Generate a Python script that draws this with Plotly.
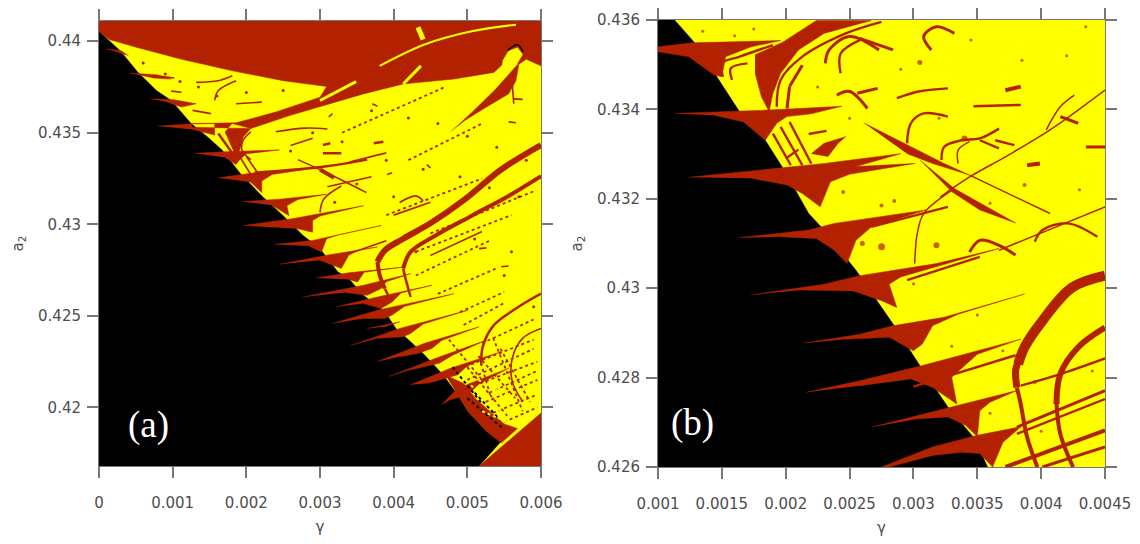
import plotly.graph_objects as go

RED = "#B22200"
YELLOW = "#FFFF00"
BLACK = "#000000"

# ---------- tick labels ----------
a_gamma_ticks = [0, 0.001, 0.002, 0.003, 0.004, 0.005, 0.006]
a_gamma_labels = ["0", "0.001", "0.002", "0.003", "0.004", "0.005", "0.006"]
a_a2_ticks = [0.42, 0.425, 0.43, 0.435, 0.44]
a_a2_labels = ["0.42", "0.425", "0.43", "0.435", "0.44"]
b_gamma_ticks = [0.001, 0.0015, 0.002, 0.0025, 0.003, 0.0035, 0.004, 0.0045]
b_gamma_labels = ["0.001", "0.0015", "0.002", "0.0025", "0.003", "0.0035", "0.004", "0.0045"]
b_a2_ticks = [0.426, 0.428, 0.43, 0.432, 0.434, 0.436]
b_a2_labels = ["0.426", "0.428", "0.43", "0.432", "0.434", "0.436"]

# ---------- panel (a): regions, (gamma*1000, a2) ----------
a_black = [[(0,.44054),(.29,.43946),(.53,.43829),(.78,.4373),(.98,.43676),(1.25,.4355),(1.47,.43478),(1.67,.43406),
            (1.91,.43281),(2.21,.43155),(2.5,.43047),(2.77,.42939),(3.0,.42867),(3.24,.42741),(3.39,.42703),(3.59,.42612),
            (3.88,.42522),(4.03,.42431),(4.23,.42359),(4.42,.42286),(4.67,.42178),(4.87,.42069),(5.01,.41978),(5.26,.4187),
            (5.46,.41815),(5.16,.4168),(0,.4168)]]
a_red = [
    [(0,.4411),(0,.44054),(.14,.44009),(.53,.43964),(1.12,.43901),(1.81,.43838),(2.5,.43784),(3.09,.43752),(3.0,.43694),
     (2.4,.43613),(1.86,.43554),(1.25,.4355),(1.27,.4353),(1.9,.43523),(2.06,.43523),(2.6,.43595),(3.09,.43655),(3.59,.43712),
     (4.13,.43766),(4.82,.43793),(5.36,.43829),(5.48,.43874),(5.7,.43874),(5.8,.43901),(5.95,.43874),(6,.43865),(6,.4411)],
    [(1.81,.4355),(2.06,.43523),(1.96,.43478),(1.91,.43406),(1.86,.4337),(1.76,.4346),(1.71,.43505)],
    [(5.56,.43847),(5.7,.43874),(5.66,.43784),(5.56,.43712),(5.26,.4364),(4.97,.43568),(4.77,.43505),(5.06,.4364),(5.36,.43766)],
    [(5.16,.4168),(6,.41969),(6,.4168)],
    [(.1,.43958),(.3,.43948),(.4,.4392)],
    [(.41,.43826),(.78,.43817),(.98,.43793),(.73,.43799)],
    [(.70,.43685),(1.02,.4368),(1.32,.43658),(1.12,.4364),(.93,.43667)],
    [(.80,.43536),(1.22,.43547),(1.57,.4355),(1.57,.43487),(1.27,.43518)],
    [(1.30,.43388),(1.71,.43396),(2.45,.43406),(2.0,.43385),(1.91,.43353),(1.86,.43326),(1.71,.43365)],
    [(1.62,.43254),(2.11,.43281),(2.8,.43299),(2.35,.43272),(2.21,.43236),(2.21,.43173),(2.06,.4323)],
    [(1.94,.43124),(2.45,.43137),(3.09,.43164),(2.7,.43135),(2.55,.43101),(2.58,.43047),(2.35,.43104)],
    [(1.96,.42993),(2.6,.43029),(3.59,.43101),(3.0,.43045),(2.9,.4302),(2.9,.42957),(2.7,.42975)],
    [(2.38,.4289),(2.9,.42912),(3.83,.42993),(3.25,.42942),(3.09,.42921),(3.02,.42849),(2.85,.42881)],
    [(2.45,.42782),(3.09,.42831),(3.78,.42876),(3.5,.42856),(3.39,.42831),(3.29,.42759),(3.0,.42804)],
    [(2.95,.42707),(3.39,.42735),(4.13,.42766),(3.6,.42738),(3.51,.42685),(3.39,.42699)],
    [(2.77,.42603),(3.59,.42667),(4.23,.4273),(3.9,.42686),(3.83,.42649),(3.64,.42612),(3.34,.42627)],
    [(3.22,.42549),(3.78,.42603),(4.52,.42667),(4.1,.42625),(3.98,.42576),(3.83,.4254),(3.59,.42567)],
    [(3.17,.42458),(3.78,.42531),(4.82,.42621),(4.15,.42552),(3.98,.42504),(3.88,.42486),(3.59,.42486)],
    [(3.41,.42337),(4.08,.42431),(5.01,.42531),(4.4,.42455),(4.23,.42404),(4.13,.42386),(3.78,.42377)],
    [(3.64,.42431),(3.98,.42458),(4.08,.42467),(3.88,.4244)],
    [(3.78,.4225),(4.42,.4235),(5.16,.4244),(4.65,.42365),(4.52,.42322),(4.33,.42295),(4.08,.42277)],
    [(3.93,.42168),(4.57,.42268),(5.26,.42368),(4.8,.42285),(4.62,.42241),(4.23,.42205)],
    [(4.23,.42123),(4.77,.42214),(5.46,.42304),(5.0,.42228),(4.87,.42178),(4.47,.42132)],
    [(4.65,.42014),(4.87,.42105),(5.56,.42214),(5.15,.42125),(5.01,.42069),(4.77,.42042)],
    [(4.7,.42178),(4.95,.4213),(5.12,.42045),(5.3,.4198),(5.5,.4191),(5.68,.41885),(5.46,.41806),(5.26,.4187),(5.01,.41978),(4.87,.42069)],
]
a_yellow = [
    [(5.48,.43892),(5.56,.43946),(5.68,.43964),(5.75,.43928),(5.66,.43865),(5.36,.4373),(5.06,.43613),(4.77,.43505),(5.21,.4373),(5.46,.43847)],
]
a_red_lines = {
    6.0: [[(6,.43433),(5.46,.43299),(4.97,.43137),(4.52,.43011),(4.13,.42921),(3.88,.42858),(3.78,.42795)]],
    4.0: [[(6,.43263),(5.56,.43155),(5.06,.43047),(4.57,.42939),(4.23,.42849),(4.13,.42759)],
          [(3.78,.42795),(3.81,.42723),(3.88,.42649)],
          [(3.0,.43299),(3.19,.43254)]],
    2.5: [[(6,.42621),(5.66,.4254),(5.36,.42449),(5.21,.42332),(5.19,.42232)],
          [(3.88,.42649),(3.96,.42585)],
          [(4.13,.42759),(4.15,.42721),(4.23,.42603)],
          [(1.62,.43496),(1.81,.43388)],
          [(2.11,.43281),(3.09,.43317),(3.64,.43353)],
          [(3.04,.43433),(3.14,.43442)],[(3.73,.43442),(3.86,.43451)],[(3.04,.43388),(3.29,.43388)]],
    1.6: [[(6,.42431),(5.75,.42377),(5.61,.42268),(5.61,.42141),(5.75,.42033)],
          [(2.7,.43353),(3.09,.43281),(3.63,.43173)],
          [(1.91,.4337),(2.06,.43272)],[(2.0,.4337),(2.17,.43272)],
          [(2.06,.43505),(1.96,.4346),(1.94,.43406),(2.06,.43353)],
          [(3.0,.43065),(3.05,.43137),(3.29,.43209)],
          [(3.91,.43272),(3.98,.43281)],[(4.45,.43326),(4.5,.43308)],
          [(4.08,.43119),(4.3,.43155),(4.4,.43128)],
          [(5.56,.43559),(5.66,.43554)],[(5.16,.42867),(5.26,.42871)],[(5.46,.42768),(5.56,.42772)],
          [(5.63,.43685),(5.75,.43682)],[(3.71,.43658),(3.78,.43644)],[(3.12,.43586),(3.17,.43604)],
          [(5.61,.43766),(5.63,.43658)],
          [(.98,.43727),(1.12,.43721)],[(.78,.43811),(1.02,.43799)],
          [(1.32,.43775),(1.62,.43784),(1.81,.43811)],[(1.57,.43676),(1.62,.4373),(1.86,.43784)],
          [(1.86,.43658),(2.21,.43667)],[(1.27,.43622),(1.52,.43604)],
          [(2.4,.43505),(2.8,.43525),(3.1,.4352)],[(2.6,.4343),(2.9,.4347)],
          [(3.4,.4334),(3.9,.4339)],[(3.1,.43205),(3.7,.4326)],
          [(4.0,.4305),(4.5,.4312)],[(4.5,.4283),(5.2,.4296)],
          [(3.4,.4284),(3.9,.4291)]],
}
a_red_dotted = [
    [(5.31,.42069),(5.19,.42232)],[(4.9,.4221),(5.9,.4237)],[(5.1,.4212),(5.95,.4225)],[(5.25,.4203),(5.95,.4215)],
    [(5.35,.4197),(5.95,.4207)],[(5.5,.4192),(5.95,.42)],[(4.95,.4245),(5.5,.4257)],[(5.2,.4235),(5.9,.4248)],
    [(4.6,.4262),(5.4,.4276)],[(4.9,.4252),(5.5,.4263)],[(5.0,.4222),(5.55,.4195)],[(5.35,.4238),(5.75,.4198)],
    [(4.3,.4272),(5.3,.4291)],[(4.3,.4285),(5.6,.4305)],[(4.5,.4295),(5.9,.4318)],[(3.9,.4305),(5.2,.4325)],
    [(3.3,.4350),(4.7,.4375)],[(4.2,.4335),(5.2,.4355)],[(5.0,.4215),(5.9,.4232)],[(5.3,.4208),(5.95,.422)],
    [(5.15,.4228),(5.65,.4205)],[(5.45,.4232),(5.85,.4203)],[(4.75,.4237),(5.2,.4215)],
]
a_black_dotted = [[(5.0,.4205),(5.5,.4188)],[(5.1,.4208),(5.45,.4193)],[(4.8,.4222),(5.2,.4202)]]
a_yellow_lines = {
    5.0: [[(4.33,.44076),(4.4,.44009)]],
    3.0: [[(3.0,.43676),(3.49,.43779)],[(4.13,.43766),(4.37,.43865)]],
    2.0: [[(3.81,.43865),(4.42,.43982),(5.06,.44054),(5.66,.4409)]],
}
a_yellow_dotted = [[(5.2,.4198),(5.65,.419)],[(5.05,.4212),(5.55,.4195)],[(5.15,.4215),(5.6,.4205)]]
a_cap = [[(5.55,.4395),(5.68,.4398),(5.76,.4394)]]
a_speck_gamma = [.6,.9,1.1,1.35,1.6,2.0,2.5,2.9,3.3,3.7,4.2,4.6,5.0,5.4,5.8,3.9,4.4,4.9,5.3,5.7,3.5,4.0,4.7,5.1,5.6,2.6,3.2,4.3,5.5,5.9]
a_speck_a2 = [.4388,.4382,.4378,.4375,.437,.4372,.4373,.435,.4345,.4362,.4358,.4355,.4348,.4342,.4335,.4335,.433,.4326,.432,.4315,.4322,.4315,.4305,.4292,.4285,.434,.4312,.4285,.4272,.4255]

# ---------- panel (b) ----------
b_black = [[(1,.436),(1.13,.436),(1.29,.43548),(1.47,.43469),(1.64,.43394),(1.84,.43331),(1.98,.43268),(2.18,.43167),
            (2.3,.4313),(2.55,.4304),(2.85,.42916),(3.05,.42827),(3.27,.42734),(3.48,.42663),(3.58,.426),(1,.426)]]
b_red = [
    [(1,.4354),(1.27,.43549),(1.96,.43554),(1.73,.4354),(1.53,.43518),(1.5,.43473),(1.44,.43477),(1.24,.43518),(1,.43529)],
    [(1.76,.43522),(1.98,.43551),(2.24,.43599),(2.67,.43599),(2.3,.4357),(2.1,.43533),(1.96,.43481),(1.9,.43436),(1.87,.43395),(1.81,.43428),(1.76,.43481)],
    [(1.13,.43391),(1.56,.43395),(1.9,.43399),(2.44,.43407),(2.2,.4339),(2.01,.43384),(1.93,.43369),(1.84,.43331),(1.78,.43346),(1.67,.43372),(1.44,.43387)],
    [(1.24,.43248),(1.9,.43268),(2.3,.43279),(2.9,.43301),(2.55,.43272),(3.01,.43279),(2.5,.43255),(2.35,.43238),(2.27,.43182),(2.13,.43212),(2.01,.43231),(1.73,.43246)],
    [(1.63,.43113),(2.18,.4313),(2.38,.43145),(3.1,.43175),(2.8,.43148),(2.67,.43137),(2.55,.43107),(2.48,.43055),(2.38,.43085),(2.24,.43111),(1.96,.43115)],
    [(1.73,.42985),(2.3,.43009),(2.58,.43028),(3.18,.43055),(3.67,.43089),(3.2,.4305),(2.9,.43025),(2.81,.43009),(2.87,.42957),(2.75,.42972),(2.53,.42994),(2.13,.42996)],
    [(2.14,.42877),(2.58,.42897),(2.84,.42916),(3.24,.42935),(3.87,.42987),(3.35,.42942),(3.15,.42916),(3.07,.42875),(3.0,.4286),(2.81,.4289),(2.47,.42886)],
    [(2.16,.42767),(2.58,.42793),(3.07,.42827),(3.84,.42886),(3.5,.42852),(3.3,.42801),(3.34,.42741),(3.15,.42778),(2.98,.42797),(2.58,.42782)],
    [(2.67,.42689),(3.15,.42723),(3.44,.42745),(3.81,.42771),(3.6,.42745),(3.52,.42726),(3.5,.42668),(3.41,.42693),(3.27,.42712),(3.04,.42708)],
    [(2.75,.426),(3.15,.42645),(3.5,.42671),(3.84,.4269),(3.7,.42655),(3.62,.426),(3.52,.4263),(3.38,.42633),(3.15,.42626),(2.81,.426)],
    [(2.61,.4337),(3.04,.43309),(3.24,.43279),(3.44,.43253),(3.15,.43279),(2.95,.43301)],
    [(3.05,.43287),(3.32,.43223),(3.55,.43186),(3.8,.43146),(3.52,.43175),(3.3,.43216)],
    [(2.2,.43301),(2.3,.43324),(2.47,.43339),(2.41,.43324),(2.33,.43294)],
]
b_red_lines = {
    10.0: [[(4.5,.43028),(4.24,.43001),(4.01,.42927),(3.87,.42868),(3.82,.4283)]],
    7.0: [[(3.82,.42835),(3.8,.42816),(3.81,.42778)]],
    6.0: [[(4.5,.42912),(4.29,.42868),(4.15,.42808),(4.12,.42741)]],
    4.0: [[(3.81,.42778),(3.84,.42741),(3.89,.42667),(3.97,.426)],[(4.12,.42741),(4.15,.42674),(4.25,.426)],
          [(3.72,.426),(4.5,.42682)],[(3.72,.43443),(3.84,.43451)],[(3.89,.43275),(3.99,.43279)]],
    3.0: [[(2.31,.43503),(2.34,.43533),(2.5,.43563),(2.73,.43533)],[(2.58,.43559),(2.84,.43533)],
          [(3.14,.43533),(3.08,.43563),(3.18,.43585),(3.32,.4357)],[(2.4,.43432),(2.5,.4344),(2.64,.43402)],
          [(2.56,.43436),(2.72,.43447)],[(2.03,.43451),(2.01,.43402)],[(2.13,.43499),(2.03,.43451)],
          [(3.81,.42689),(4.5,.42771)],[(4.01,.426),(4.5,.42645)],[(3.44,.43081),(3.52,.43107),(3.67,.43096),(3.8,.43074)],
          [(4.15,.43384),(4.29,.43369)],[(4.35,.43316),(4.5,.43316)]],
    2.4: [[(1.93,.43406),(1.96,.43466),(2.13,.43518),(2.47,.4357),(2.75,.43596)],
          [(1.51,.43473),(1.5,.43503),(1.64,.43518),(1.9,.43544)],[(1.58,.43466),(1.57,.43492),(1.7,.43503)],
          [(1.96,.43361),(2.13,.43275)],[(2.03,.43372),(2.2,.43279)],[(1.9,.43346),(2.04,.43275)],
          [(2.67,.43137),(3.27,.43182)],[(2.95,.43324),(2.98,.43369),(3.08,.43391),(3.27,.43384)],
          [(3.22,.43287),(3.24,.43316),(3.38,.43331),(3.52,.43335),(3.67,.43357)],
          [(2.43,.43481),(2.43,.43525),(2.58,.43555)],[(2.87,.43425),(3.04,.4344),(3.27,.43447)],
          [(3.47,.43407),(3.84,.4341)],[(3.52,.43331),(3.67,.43313)],[(3.64,.43331),(3.79,.4332)],
          [(3.95,.43104),(4.01,.4313),(4.21,.43145),(4.44,.43115)],[(3.81,.42674),(4.5,.42752)],
          [(3.84,.42782),(4.15,.42808),(4.5,.42843)],[(2.95,.43018),(3.52,.4307)],
          [(2.18,.43345),(2.32,.43352)],[(2.0,.4329),(2.1,.4331)],[(3.0,.4278),(3.8,.4285)]],
    1.5: [[(3.21,.43204),(3.44,.43249),(3.72,.43294),(4.07,.43354),(4.5,.43443)],
          [(3.44,.43253),(4.07,.43167)],[(3.01,.43055),(3.03,.43122),(3.08,.43167),(3.3,.43219)],
          [(3.35,.43279),(3.35,.43309),(3.44,.43328)],[(4.04,.43354),(4.15,.43406),(4.26,.43432)],
          [(3.67,.43085),(4.5,.43182)]],
}
b_speck_gamma = [1.35,1.6,1.75,2.25,2.5,2.9,3.05,3.2,3.45,3.85,4.2,4.35,2.75,2.6,2.75,2.45,2.85,3.18,3.87,3.4,3.6,4.3,3.0,3.5,4.0,4.4,3.7,3.3,3.95,3.6,4.0]
b_speck_a2 = [.43575,.43565,.4358,.4345,.4338,.4349,.43505,.4338,.43555,.4351,.4352,.43585,.43093,.431,.43185,.43215,.43195,.43096,.43231,.43335,.4319,.4322,.4301,.4294,.42925,.42815,.4286,.4287,.4279,.4272,.4268]
b_speck_size = [3,3,3,3,3,3,5,3,3,3,3,3,7,5,4,4,4,6,4,6,3,3,3,3,3,3,3,3,4,3,3]

# ---------- figure ----------
def xs(shapes):
    out = []
    for s in shapes:
        out += [p[0] / 1000 for p in s] + [None]
    return out

def ys(shapes):
    out = []
    for s in shapes:
        out += [p[1] for p in s] + [None]
    return out

fig = go.Figure()

def fill(shapes, color, ax):
    fig.add_trace(go.Scatter(x=xs(shapes), y=ys(shapes), mode="lines", fill="toself", fillcolor=color,
                             line=dict(color=color, width=0.5), xaxis=ax[0], yaxis=ax[1],
                             hoverinfo="skip", showlegend=False))

def stroke(shapes, color, width, ax, dash="solid"):
    fig.add_trace(go.Scatter(x=xs(shapes), y=ys(shapes), mode="lines",
                             line=dict(color=color, width=width, dash=dash, shape="spline", smoothing=1),
                             xaxis=ax[0], yaxis=ax[1], hoverinfo="skip", showlegend=False))

A = ("x", "y")
B = ("x2", "y2")

fill(a_black, BLACK, A)
fill(a_red, RED, A)
for w, sh in a_red_lines.items():
    stroke(sh, RED, w, A)
stroke(a_red_dotted, RED, 1.8, A, "dot")
stroke(a_black_dotted, BLACK, 2, A, "dot")
stroke(a_yellow_dotted, YELLOW, 2, A, "dot")
fill(a_yellow, YELLOW, A)
for w, sh in a_yellow_lines.items():
    stroke(sh, YELLOW, w, A)
stroke(a_cap, BLACK, 1.5, A)
fig.add_trace(go.Scatter(x=[g / 1000 for g in a_speck_gamma], y=a_speck_a2, mode="markers",
                         marker=dict(color=RED, size=3, line=dict(width=0)),
                         xaxis="x", yaxis="y", hoverinfo="skip", showlegend=False))

fill(b_black, BLACK, B)
fill(b_red, RED, B)
for w, sh in b_red_lines.items():
    stroke(sh, RED, w, B)
fig.add_trace(go.Scatter(x=[g / 1000 for g in b_speck_gamma], y=b_speck_a2, mode="markers",
                         marker=dict(color=RED, size=b_speck_size, line=dict(width=0)),
                         xaxis="x2", yaxis="y2", hoverinfo="skip", showlegend=False))

W, H = 1140, 544
axis_style = dict(showline=True, linecolor="#777777", linewidth=1, mirror="allticks", ticks="outside",
                  ticklen=11, tickwidth=2, tickcolor="#777777", showgrid=False, zeroline=False,
                  automargin=False, tickfont=dict(family="DejaVu Sans", size=15, color="#4d4d4d"), tickmode="array",
                  title_font=dict(family="DejaVu Sans", size=15, color="#4d4d4d"))

fig.update_layout(
    width=W, height=H, margin=dict(l=0, r=0, t=0, b=0), autosize=False,
    paper_bgcolor="white", plot_bgcolor=YELLOW, showlegend=False,
    xaxis=dict(domain=[99 / W, 541 / W], range=[0, 0.006], tickvals=a_gamma_ticks, ticktext=a_gamma_labels,
               title=dict(text="γ", standoff=10), ticklabelstandoff=12, anchor="y", **axis_style),
    yaxis=dict(domain=[(H - 466) / H, (H - 21) / H], range=[0.4168, 0.4411], tickvals=a_a2_ticks, ticktext=a_a2_labels,
               title=dict(text="a<sub>2</sub>", standoff=10), ticklabelstandoff=3, anchor="x", **axis_style),
    xaxis2=dict(domain=[658 / W, 1105 / W], range=[0.001, 0.0045], tickvals=b_gamma_ticks, ticktext=b_gamma_labels,
                title=dict(text="γ", standoff=10), ticklabelstandoff=12, anchor="y2", **axis_style),
    yaxis2=dict(domain=[(H - 467) / H, (H - 20) / H], range=[0.426, 0.436], tickvals=b_a2_ticks, ticktext=b_a2_labels,
                title=dict(text="a<sub>2</sub>", standoff=10), ticklabelstandoff=3, anchor="x2", **axis_style),
    annotations=[
        dict(text="(a)", x=126 / W, y=1 - 448 / H, xref="paper", yref="paper", showarrow=False,
             font=dict(family="Liberation Serif", size=37, color="white")),
        dict(text="(b)", x=692 / W, y=1 - 446 / H, xref="paper", yref="paper", showarrow=False,
             font=dict(family="Liberation Serif", size=37, color="white")),
    ],
)

fig.write_html("out.html", config={"displayModeBar": False}, post_script="document.body.style.margin='0';")
